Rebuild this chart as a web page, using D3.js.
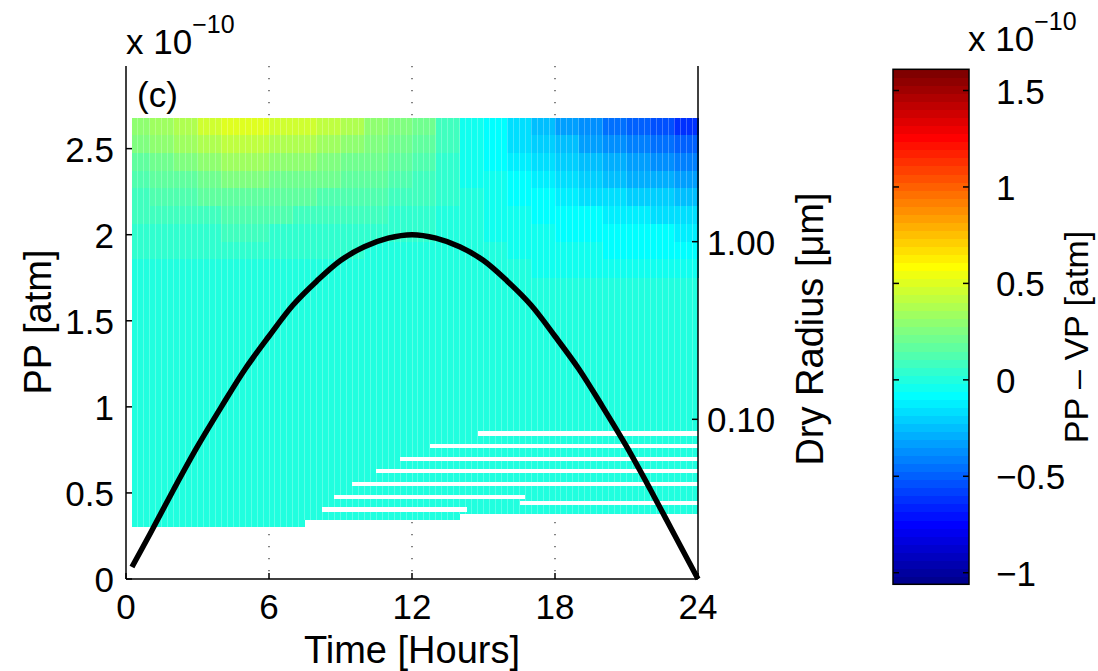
<!DOCTYPE html>
<html><head><meta charset="utf-8">
<script src="https://cdn.jsdelivr.net/npm/d3@7"></script>
<style>
body{margin:0;background:#fff}
svg text{font-family:"Liberation Sans",Arial,Helvetica,sans-serif;fill:#000}
</style>
</head><body>
<svg id="chart" width="1098" height="671"></svg>
<script>
// ---------------- DATA ----------------
// PP curve (x 1e-10 atm) vs time [hours]
const curveTimes = [0.25,1,2,3,4,5,6,7,8,9,10,11,12,13,14,15,16,17,18,19,20,21,22,23,24];
const curvePP    = [0.07,0.26,0.52,0.77,1.00,1.22,1.41,1.59,1.73,1.85,1.93,1.98,2.00,1.98,1.93,1.85,1.73,1.59,1.41,1.22,1.00,0.77,0.52,0.26,0.00];

const xTicks = [0,6,12,18,24];
const yTicks = [0,0.5,1,1.5,2,2.5];
const yTickLabels = ["0","0.5","1","1.5","2","2.5"];
const rTicks = [0.1,1];
const rTickLabels = ["0.10","1.00"];
const cbTicks = [-1,-0.5,0,0.5,1,1.5];
const cbTickLabels = ["\u22121","\u22120.5","0","0.5","1","1.5"];

// PP - VP field (x 1e-10 atm): time bins x dry-radius rows (upper part)
const cellTimeEdges = [0.25,1,2,3,4,5,6,7,8,9,10,11,12,13,14,15,16,17,18,19,20,21,22,23,24];
const cellRadiusEdges = [5.0,3.98,3.16,2.51,2.0,1.58,1.26,1.0,0.794,0.631];
const row0 = [0.30,0.34,0.40,0.45,0.50,0.51,0.48,0.45,0.41,0.36,0.31,0.27,0.21,0.10,-0.03,-0.10,-0.18,-0.25,-0.31,-0.38,-0.44,-0.50,-0.55,-0.61];
const row1 = [0.25,0.28,0.33,0.37,0.41,0.42,0.39,0.37,0.34,0.30,0.25,0.22,0.17,0.08,-0.03,-0.08,-0.15,-0.21,-0.26,-0.32,-0.37,-0.42,-0.46,-0.51];
const row2 = [0.19,0.22,0.26,0.29,0.32,0.33,0.31,0.29,0.26,0.23,0.20,0.17,0.13,0.06,-0.02,-0.07,-0.12,-0.17,-0.21,-0.26,-0.30,-0.34,-0.37,-0.41];
const row3 = [0.14,0.16,0.19,0.22,0.24,0.24,0.23,0.22,0.20,0.17,0.15,0.13,0.10,0.05,-0.02,-0.05,-0.10,-0.13,-0.16,-0.20,-0.23,-0.27,-0.29,-0.32];
const row4 = [0.10,0.12,0.14,0.15,0.17,0.17,0.16,0.15,0.14,0.12,0.11,0.09,0.07,0.03,-0.01,-0.04,-0.07,-0.10,-0.12,-0.15,-0.17,-0.20,-0.21,-0.24];
const row5 = [0.07,0.07,0.09,0.10,0.11,0.11,0.11,0.10,0.09,0.08,0.07,0.06,0.05,0.02,-0.01,-0.03,-0.05,-0.07,-0.08,-0.10,-0.12,-0.14,-0.15,-0.16];
const row6 = [0.04,0.04,0.05,0.06,0.07,0.07,0.06,0.06,0.05,0.05,0.04,0.04,0.03,0.01,-0.01,-0.02,-0.03,-0.05,-0.06,-0.07,-0.08,-0.09,-0.10,-0.11];
const row7 = [0.03,0.03,0.03,0.04,0.04,0.04,0.04,0.03,0.03,0.03,0.02,0.02,0.01,0.01,0.00,-0.01,-0.02,-0.03,-0.04,-0.05,-0.06,-0.07,-0.07,-0.08];
const row8 = [0.02,0.02,0.02,0.02,0.02,0.02,0.02,0.02,0.01,0.01,0.01,0.01,0.01,0.00,0.00,0.00,-0.01,-0.02,-0.02,-0.03,-0.03,-0.04,-0.04,-0.05];
const cellRows = [row0,row1,row2,row3,row4,row5,row6,row7,row8];
// lower part of the field (small radii) is uniform
const lowerValue = 0.0;
const lowerSegments = [
  {t0:0.25, t1:7.5,  rTop:0.631, rBottom:0.0248},
  {t0:7.5,  t1:14.0, rTop:0.631, rBottom:0.0271},
  {t0:14.0, t1:24,   rTop:0.631, rBottom:0.0293}
];
// empty (white) bins in the small-radius region
const gapStripes = [
  {r:0.0834, t0:14.77, t1:24},
  {r:0.0707, t0:12.76, t1:24},
  {r:0.0600, t0:11.50, t1:24},
  {r:0.0510, t0:10.49, t1:24},
  {r:0.0432, t0:9.48,  t1:24},
  {r:0.0365, t0:8.73,  t1:16.74},
  {r:0.0337, t0:16.53, t1:24},
  {r:0.0310, t0:8.22,  t1:14.27}
];
const colorLimits = [-1.06, 1.61];
const pcolorStep = 0.25; // model output interval [h]

// ---------------- LAYOUT ----------------
const svg = d3.select("#chart");
const L = 126, R = 698, T = 66, B = 579;
const x = d3.scaleLinear().domain([0,24]).range([L,R]);
const yL = d3.scaleLinear().domain([0,2.98]).range([B,T]);
const yR = d3.scaleLog().domain([0.01262,9.75]).range([B,T]);
const cb = {x0:893, x1:969, y0:69.3, y1:584.3};
const yC = d3.scaleLinear().domain(colorLimits).range([cb.y1, cb.y0]);
const FS = 35, LFS = 38, SFS = 25;

// MATLAB jet(64)
function jet64(k){
  const n = 16;
  const u = [];
  for(let i=1;i<=n;i++) u.push(i/n);
  for(let i=0;i<n-1;i++) u.push(1);
  for(let i=n;i>=1;i--) u.push(i/n);
  const at = j => (j>=1 && j<=u.length) ? u[j-1] : 0;
  const k1 = k+1;
  return d3.rgb(255*at(k1-24), 255*at(k1-8), 255*at(k1+8)).toString();
}
function colorOf(v){
  let k = Math.floor((v-colorLimits[0])/(colorLimits[1]-colorLimits[0])*64);
  k = Math.max(0, Math.min(63, k));
  return jet64(k);
}

// vertical dotted grid
svg.append("g").selectAll("line").data(xTicks.filter(d=>d>0&&d<24)).join("line")
  .attr("x1",d=>x(d)).attr("x2",d=>x(d)).attr("y1",T).attr("y2",B)
  .attr("stroke","#333").attr("stroke-width",1.2).attr("stroke-dasharray","1.2,10.8");

// heatmap: lower uniform region
const hm = svg.append("g").attr("shape-rendering","crispEdges");
hm.selectAll("rect.low").data(lowerSegments).join("rect").attr("class","low")
  .attr("x",d=>x(d.t0)).attr("width",d=>x(d.t1)-x(d.t0))
  .attr("y",d=>yR(d.rTop)).attr("height",d=>yR(d.rBottom)-yR(d.rTop))
  .attr("fill",colorOf(lowerValue));
// heatmap: upper cells
const cells = [];
cellRows.forEach((row,i)=>row.forEach((v,j)=>cells.push({
  t0:cellTimeEdges[j], t1:cellTimeEdges[j+1], rTop:cellRadiusEdges[i], rBot:cellRadiusEdges[i+1], v})));
hm.selectAll("rect.cell").data(cells).join("rect").attr("class","cell")
  .attr("x",d=>x(d.t0)).attr("width",d=>x(d.t1)-x(d.t0)+0.5)
  .attr("y",d=>yR(d.rTop)).attr("height",d=>yR(d.rBot)-yR(d.rTop)+0.5)
  .attr("fill",d=>colorOf(d.v));
// faint pcolor seams
const seams = d3.range(cellTimeEdges[0]+pcolorStep, 24, pcolorStep);
hm.selectAll("line.seam").data(seams).join("line").attr("class","seam")
  .attr("x1",d=>x(d)).attr("x2",d=>x(d))
  .attr("y1",yR(cellRadiusEdges[0]))
  .attr("y2",d=>{const s=lowerSegments.find(g=>d>=g.t0&&d<g.t1)||lowerSegments[2]; return yR(s.rBottom);})
  .attr("stroke","#fff").attr("stroke-opacity",0.25).attr("stroke-width",1);
// gaps
hm.selectAll("rect.gap").data(gapStripes).join("rect").attr("class","gap")
  .attr("x",d=>x(d.t0)).attr("width",d=>x(d.t1)-x(d.t0)+0.5)
  .attr("y",d=>yR(d.r)-2.2).attr("height",4.4).attr("fill","#fff");

// curve
svg.append("path").datum(curveTimes.map((t,i)=>[t,curvePP[i]]))
  .attr("d", d3.line().x(d=>x(d[0])).y(d=>yL(d[1])).curve(d3.curveCatmullRom.alpha(0.5)))
  .attr("fill","none").attr("stroke","#000").attr("stroke-width",5.5).attr("stroke-linecap","butt");

// axes lines
const ax = svg.append("g").attr("stroke","#000").attr("stroke-width",1.5);
ax.append("line").attr("x1",L).attr("x2",L).attr("y1",T).attr("y2",B);
ax.append("line").attr("x1",R).attr("x2",R).attr("y1",T).attr("y2",B);
ax.append("line").attr("x1",L).attr("x2",R).attr("y1",B).attr("y2",B);
// ticks (inward)
ax.selectAll("line.xt").data(xTicks).join("line").attr("class","xt")
  .attr("x1",d=>x(d)).attr("x2",d=>x(d)).attr("y1",B).attr("y2",B-6);
ax.selectAll("line.yt").data(yTicks).join("line").attr("class","yt")
  .attr("x1",L).attr("x2",L+6).attr("y1",d=>yL(d)).attr("y2",d=>yL(d));
ax.selectAll("line.rt").data(rTicks).join("line").attr("class","rt")
  .attr("x1",R).attr("x2",R-6).attr("y1",d=>yR(d)).attr("y2",d=>yR(d));

// tick labels
svg.append("g").selectAll("text").data(xTicks).join("text")
  .attr("x",d=>x(d)).attr("y",B+40).attr("text-anchor","middle").attr("font-size",FS).text(d=>d);
svg.append("g").selectAll("text").data(yTicks).join("text")
  .attr("x",L-12).attr("y",d=>yL(d)+13).attr("text-anchor","end").attr("font-size",FS).text((d,i)=>yTickLabels[i]);
svg.append("g").selectAll("text").data(rTicks).join("text")
  .attr("x",R+9).attr("y",d=>yR(d)+13).attr("text-anchor","start").attr("font-size",FS).text((d,i)=>rTickLabels[i]);

// exponent labels
function expo(xp, yb){
  const t = svg.append("text").attr("x",xp).attr("y",yb).attr("font-size",FS);
  t.append("tspan").text("x 10");
  t.append("tspan").attr("font-size",SFS).attr("dy",-21).text("\u221210");
}
expo(126,54);
expo(968,51);

// axis labels
svg.append("text").attr("x",412).attr("y",663).attr("text-anchor","middle").attr("font-size",LFS).text("Time [Hours]");
svg.append("text").attr("transform","translate(51,322) rotate(-90)").attr("text-anchor","middle").attr("font-size",LFS).text("PP [atm]");
svg.append("text").attr("transform","translate(823,329) rotate(-90)").attr("text-anchor","middle").attr("font-size",LFS).text("Dry Radius [\u03bcm]");
svg.append("text").attr("transform","translate(1088,337) rotate(-90)").attr("text-anchor","middle").attr("font-size",34).text("PP \u2013 VP [atm]");
svg.append("text").attr("x",137).attr("y",107).attr("font-size",FS).text("(c)");

// colorbar
const cbg = svg.append("g");
cbg.selectAll("rect").data(d3.range(64)).join("rect")
  .attr("shape-rendering","crispEdges")
  .attr("x",cb.x0).attr("width",cb.x1-cb.x0)
  .attr("y",k=>cb.y1-(k+1)*(cb.y1-cb.y0)/64).attr("height",(cb.y1-cb.y0)/64+0.6)
  .attr("fill",k=>jet64(k));
cbg.append("rect").attr("x",cb.x0).attr("y",cb.y0).attr("width",cb.x1-cb.x0).attr("height",cb.y1-cb.y0)
  .attr("fill","none").attr("stroke","#000").attr("stroke-width",1.5);
cbg.selectAll("line.l").data(cbTicks).join("line").attr("class","l")
  .attr("x1",cb.x0).attr("x2",cb.x0+6).attr("y1",d=>yC(d)).attr("y2",d=>yC(d)).attr("stroke","#000").attr("stroke-width",1.5);
cbg.selectAll("line.r").data(cbTicks).join("line").attr("class","r")
  .attr("x1",cb.x1).attr("x2",cb.x1-6).attr("y1",d=>yC(d)).attr("y2",d=>yC(d)).attr("stroke","#000").attr("stroke-width",1.5);
cbg.selectAll("text").data(cbTicks).join("text")
  .attr("x",cb.x1+27).attr("y",d=>yC(d)+13).attr("font-size",FS).text((d,i)=>cbTickLabels[i]);
</script>
</body></html>
